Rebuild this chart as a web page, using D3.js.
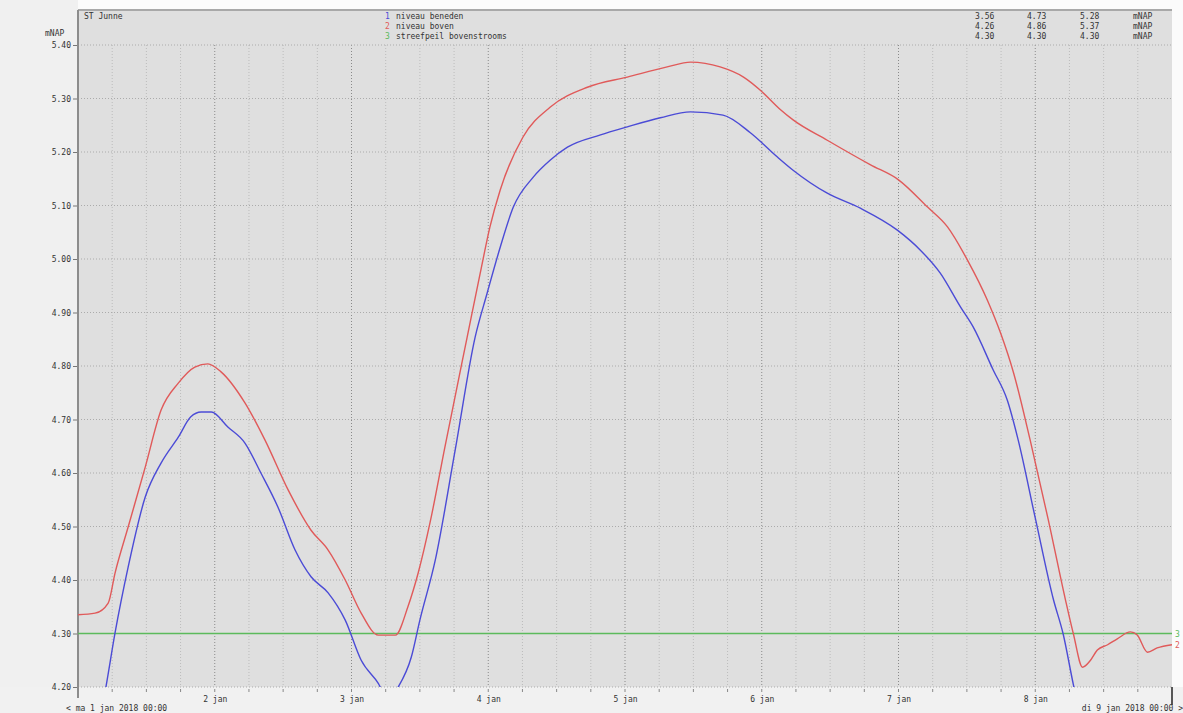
<!DOCTYPE html>
<html>
<head>
<meta charset="utf-8">
<script src="https://cdn.jsdelivr.net/npm/d3@7"></script>
<style>
  body { margin: 0; background: #fbfbfb; }
  text { font-family: "DejaVu Sans Mono", monospace; font-size: 8px; fill: #333; }
</style>
</head>
<body>
<script>
const width = 1183
const height = 713
const left = 78
const right = 1172
const top_ = 45
const bottom = 687

// uren sinds ma 1 jan 2018 00:00
const boven_uur = [0, 3, 5.3, 6.5, 8.8, 11.8, 14.6, 17.6, 20.5, 22.8, 25.1, 29.3, 32.8, 36.9, 40.9, 43.9, 46.9, 49.7, 52.7, 55.7, 57.9, 59.7, 61.8, 64.4, 68.3, 70.6, 72.3, 74.1, 78.1, 82.9, 89.4, 96.4, 103.4, 107.5, 112.7, 116.8, 119.7, 123.3, 125.5, 131.5, 139.1, 144, 149.1, 152.6, 156.1, 159.6, 161.9, 164.2, 167.1, 170.3, 173.3, 174.7, 176.3, 177.7, 178.9, 180.7, 182.4, 184.7, 185.9, 187.7, 189.4, 192]
const boven_mnap = [4.335, 4.338, 4.357, 4.413, 4.499, 4.611, 4.718, 4.768, 4.798, 4.804, 4.789, 4.731, 4.662, 4.568, 4.493, 4.456, 4.400, 4.338, 4.297, 4.297, 4.350, 4.413, 4.508, 4.649, 4.854, 4.974, 5.060, 5.129, 5.228, 5.284, 5.321, 5.340, 5.359, 5.368, 5.359, 5.340, 5.316, 5.279, 5.260, 5.222, 5.176, 5.148, 5.097, 5.060, 4.998, 4.923, 4.862, 4.787, 4.662, 4.512, 4.363, 4.299, 4.237, 4.250, 4.269, 4.279, 4.290, 4.303, 4.297, 4.265, 4.273, 4.279]

const beneden_uur = [0, 2.5, 4.9, 6.5, 8.8, 11.8, 14.6, 17.6, 19.8, 21.6, 23.4, 26.3, 29.3, 32.1, 35.1, 38.1, 40.9, 43.9, 46.9, 49.7, 52.7, 54.4, 56.2, 58.5, 60, 62.7, 66.2, 69.7, 71.8, 74.1, 76.4, 79.9, 82.9, 85.9, 91.7, 96.4, 102.2, 107.5, 113.2, 118, 122.7, 125.5, 131.5, 137.3, 143.8, 147.8, 151.3, 154.9, 157.1, 160.6, 163.1, 165, 168, 171.2, 172.9, 174.7, 177, 180, 184, 188, 192]
const beneden_mnap = [3.95, 4.07, 4.20, 4.301, 4.424, 4.555, 4.619, 4.667, 4.705, 4.714, 4.714, 4.686, 4.656, 4.600, 4.536, 4.456, 4.406, 4.376, 4.325, 4.250, 4.207, 4.176, 4.200, 4.256, 4.325, 4.437, 4.643, 4.854, 4.936, 5.022, 5.097, 5.153, 5.185, 5.209, 5.232, 5.247, 5.264, 5.275, 5.269, 5.236, 5.191, 5.166, 5.123, 5.095, 5.054, 5.017, 4.974, 4.910, 4.873, 4.793, 4.736, 4.662, 4.516, 4.363, 4.299, 4.204, 4.10, 3.90, 3.70, 3.58, 3.56]

const streefpeil = 4.30

const y_ticks = [4.20, 4.30, 4.40, 4.50, 4.60, 4.70, 4.80, 4.90, 5.00, 5.10, 5.20, 5.30, 5.40]
const day_labels = ['2 jan', '3 jan', '4 jan', '5 jan', '6 jan', '7 jan', '8 jan']
const legend_names = ['niveau beneden', 'niveau boven', 'streefpeil bovenstrooms']
const legend_stats = [['3.56', '4.73', '5.28'], ['4.26', '4.86', '5.37'], ['4.30', '4.30', '4.30']]
const colors = ['#4b4bd6', '#e05a5a', '#5cba5c']

const t0 = new Date(2018, 0, 1)
const hour = h => new Date(t0.getTime() + h * 3600e3)

const x = d3.scaleTime().domain([t0, hour(192)]).range([left, right])
const y = d3.scaleLinear().domain([4.20, 5.40]).range([bottom, top_])

const svg = d3.select('body').append('svg')
    .attr('width', width)
    .attr('height', height)

// achtergrond
svg.append('rect').attr('x', 0).attr('y', 0).attr('width', left).attr('height', height).attr('fill', '#f0f0f0')
svg.append('rect').attr('x', 0).attr('y', bottom).attr('width', width).attr('height', height - bottom).attr('fill', '#f1f1f1')
svg.append('rect').attr('x', left).attr('y', 10).attr('width', right - left).attr('height', bottom - 10).attr('fill', '#dfdfdf')
svg.append('line').attr('x1', left).attr('x2', right).attr('y1', 10).attr('y2', 10).attr('stroke', '#a8a8a8').attr('stroke-width', 2)

// raster
const minor = d3.range(0, 193, 6).filter(h => h % 24 != 0).map(hour)
svg.append('g').selectAll('line').data(minor).enter().append('line')
    .attr('x1', d => x(d)).attr('x2', d => x(d))
    .attr('y1', top_).attr('y2', bottom)
    .attr('stroke', '#bcbcbc').attr('stroke-dasharray', '1,2')
const major = d3.range(24, 192, 24).map(hour)
svg.append('g').selectAll('line').data(major).enter().append('line')
    .attr('x1', d => x(d)).attr('x2', d => x(d))
    .attr('y1', top_).attr('y2', bottom)
    .attr('stroke', '#8a8a8a').attr('stroke-dasharray', '1,2')
svg.append('g').selectAll('line').data(y_ticks).enter().append('line')
    .attr('x1', left).attr('x2', right)
    .attr('y1', d => y(d)).attr('y2', d => y(d))
    .attr('stroke', '#ababab').attr('stroke-dasharray', '1,2')

// y-as
const yAxis = svg.append('g')
    .attr('transform', `translate(${left},0)`)
    .call(d3.axisLeft(y).tickValues(y_ticks).tickFormat(d3.format('.2f')).tickSize(5).tickPadding(2))
yAxis.select('.domain').remove()
yAxis.selectAll('line').attr('stroke', '#777')
yAxis.selectAll('text').attr('fill', '#444')
svg.append('line').attr('x1', left).attr('x2', left).attr('y1', 10).attr('y2', 698)
    .attr('stroke', '#8c8c8c').attr('stroke-width', 2)
svg.append('text').attr('x', 45).attr('y', 36).text('mNAP')

// x-as
const xAxis = svg.append('g')
    .attr('transform', `translate(0,${bottom})`)
    .call(d3.axisBottom(x).tickValues(major).tickFormat((d, i) => day_labels[i]).tickSize(0).tickPadding(9))
xAxis.select('.domain').remove()
xAxis.selectAll('text').attr('fill', '#444')
svg.append('g').selectAll('line').data(minor.concat(major)).enter().append('line')
    .attr('x1', d => x(d)).attr('x2', d => x(d))
    .attr('y1', bottom + 2).attr('y2', bottom + 5)
    .attr('stroke', '#888')
svg.append('line').attr('x1', right).attr('x2', right).attr('y1', bottom).attr('y2', 705)
    .attr('stroke', '#222').attr('stroke-width', 1.5)
svg.append('text').attr('x', 66).attr('y', 711).text('< ma 1 jan 2018 00:00')
svg.append('text').attr('x', 1183).attr('y', 711).attr('text-anchor', 'end').text('di 9 jan 2018 00:00 >')

// lijnen
svg.append('clipPath').attr('id', 'clip')
    .append('rect').attr('x', left).attr('y', 12).attr('width', right - left).attr('height', bottom - 12)
const line = d3.line().curve(d3.curveMonotoneX).x(d => x(hour(d[0]))).y(d => y(d[1]))
const plot = svg.append('g').attr('clip-path', 'url(#clip)')
plot.append('path')
    .datum([[0, streefpeil], [192, streefpeil]])
    .attr('d', line).attr('fill', 'none').attr('stroke', colors[2]).attr('stroke-width', 1.5)
plot.append('path')
    .datum(boven_uur.map((h, i) => [h, boven_mnap[i]]))
    .attr('d', line).attr('fill', 'none').attr('stroke', colors[1]).attr('stroke-width', 1.4)
plot.append('path')
    .datum(beneden_uur.map((h, i) => [h, beneden_mnap[i]]))
    .attr('d', line).attr('fill', 'none').attr('stroke', colors[0]).attr('stroke-width', 1.4)

svg.append('text').attr('x', right + 3).attr('y', y(streefpeil) + 3).style('fill', colors[2]).text('3')
svg.append('text').attr('x', right + 3).attr('y', y(boven_mnap[boven_mnap.length - 1]) + 3).style('fill', colors[1]).text('2')

// legenda
svg.append('text').attr('x', 84).attr('y', 19).text('ST Junne')
const leg = svg.append('g').selectAll('g').data(legend_names).enter().append('g')
    .attr('transform', (d, i) => `translate(0,${19 + i * 10})`)
leg.append('text').attr('x', 385).style('fill', (d, i) => colors[i]).text((d, i) => i + 1)
leg.append('text').attr('x', 396).text(d => d)
const stat_x = [975, 1027, 1080]
leg.each(function(d, i) {
    d3.select(this).selectAll('.stat').data(legend_stats[i]).enter().append('text')
        .attr('class', 'stat')
        .attr('x', (s, j) => stat_x[j]).text(s => s)
})
leg.append('text').attr('x', 1133).text('mNAP')
</script>
</body>
</html>
